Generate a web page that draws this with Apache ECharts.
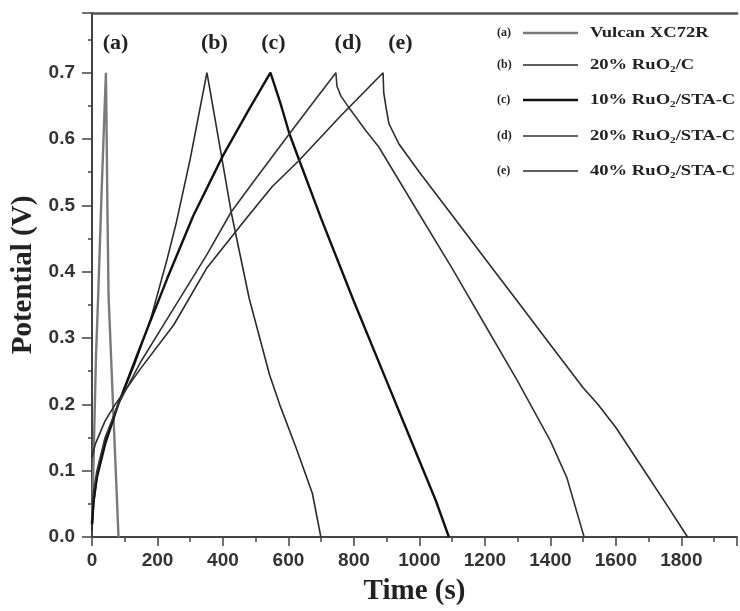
<!DOCTYPE html>
<html><head><meta charset="utf-8">
<script src="https://cdn.jsdelivr.net/npm/echarts@6/dist/echarts.min.js"></script>
<style>html,body{margin:0;padding:0;background:#fff;overflow:hidden;width:740px;height:611px}#c{width:740px;height:611px;display:block}</style>
</head><body><div id="c"></div><script>
// ---- data ----
const xTickLabels = [0, 200, 400, 600, 800, 1000, 1200, 1400, 1600, 1800];
const yTickLabels = [0.0, 0.1, 0.2, 0.3, 0.4, 0.5, 0.6, 0.7];
const seriesTags = ['(a)', '(b)', '(c)', '(d)', '(e)'];
const seriesNames = ['Vulcan XC72R', '20% RuO\u2082/C', '10% RuO\u2082/STA-C', '20% RuO\u2082/STA-C', '40% RuO\u2082/STA-C'];

const aX = [0, 5, 12, 19, 30, 42.5, 44, 47, 50.5, 60, 70, 81];
const aY = [0.02, 0.12, 0.27, 0.365, 0.53, 0.70, 0.64, 0.50, 0.365, 0.25, 0.13, 0.0];

const bX = [0, 5, 15, 40, 80, 130, 180, 230, 258, 300, 351, 360, 390, 425, 480, 542, 573, 623, 673, 699];
const bY = [0.01, 0.05, 0.09, 0.145, 0.2, 0.26, 0.33, 0.42, 0.475, 0.57, 0.70, 0.675, 0.59, 0.49, 0.36, 0.245, 0.20, 0.135, 0.066, 0.0];

const cX = [0, 5, 15, 40, 80, 150, 230, 309, 400, 480, 545, 575, 603, 633, 700, 800, 900, 950, 1000, 1050, 1090];
const cY = [0.02, 0.055, 0.09, 0.14, 0.2, 0.29, 0.39, 0.484, 0.575, 0.645, 0.70, 0.655, 0.608, 0.568, 0.48, 0.355, 0.235, 0.175, 0.115, 0.055, 0.0];

const dX = [0, 5, 15, 40, 80, 150, 250, 350, 425, 500, 603, 680, 745, 748, 760, 785, 836, 876, 1003, 1100, 1200, 1300, 1400, 1450, 1503];
const dY = [0.05, 0.07, 0.1, 0.15, 0.2, 0.265, 0.345, 0.425, 0.49, 0.54, 0.608, 0.658, 0.70, 0.68, 0.665, 0.647, 0.613, 0.588, 0.484, 0.405, 0.32, 0.235, 0.145, 0.09, 0.0];

const eX = [0, 10, 40, 71, 150, 250, 350, 471, 550, 633, 760, 889, 891, 898, 907, 937, 1000, 1100, 1200, 1300, 1400, 1500, 1545, 1600, 1700, 1760, 1819];
const eY = [0.12, 0.14, 0.175, 0.2, 0.255, 0.32, 0.405, 0.48, 0.528, 0.568, 0.635, 0.70, 0.67, 0.648, 0.623, 0.593, 0.55, 0.485, 0.42, 0.355, 0.29, 0.225, 0.2, 0.165, 0.09, 0.045, 0.0];

// positions of the "(a)".."(e)" tags, in data units
const tagX = [72, 374, 554, 782, 942];
const tagY = [0.745, 0.745, 0.745, 0.745, 0.745];

// ---- styles ----
const colors = ['#7a7a7a', '#2b2b2b', '#111111', '#333333', '#2b2b2b'];
const widths = [2.4, 1.6, 2.4, 1.6, 1.6];
const legendY = [33, 65, 100, 136, 171];

const zip = (xs, ys) => xs.map((x, i) => [x, ys[i]]);
const allX = [aX, bX, cX, dX, eX];
const allY = [aY, bY, cY, dY, eY];

const serif = '"Liberation Serif", "Times New Roman", serif';
const sans = '"Liberation Sans", Arial, sans-serif';

const series = allX.map((xs, i) => ({
  type: 'line',
  name: seriesNames[i],
  data: zip(xs, allY[i]),
  xAxisIndex: 0, yAxisIndex: 0,
  showSymbol: false, symbol: 'none',
  lineStyle: { color: colors[i], width: widths[i] },
  itemStyle: { color: colors[i] },
  markPoint: {
    symbol: 'circle', symbolSize: 1,
    itemStyle: { color: 'rgba(0,0,0,0)' },
    label: { show: true, position: 'inside', formatter: seriesTags[i],
      fontFamily: serif, fontWeight: 'bold', fontSize: 22, color: '#222' },
    data: [{ coord: [tagX[i], tagY[i]] }]
  }
}));

const graphic = [];
seriesNames.forEach((n, i) => {
  const y = legendY[i];
  graphic.push({ type: 'text', x: 497, y: y, style: { text: seriesTags[i], font: 'bold 12px ' + serif, fill: '#222', verticalAlign: 'middle' } });
  graphic.push({ type: 'line', shape: { x1: 523, y1: y, x2: 578, y2: y }, style: { stroke: colors[i], lineWidth: widths[i] } });
  graphic.push({ type: 'text', x: 590, y: y, scaleX: 1.24, style: { text: n, font: 'bold 15px ' + serif, fill: '#222', verticalAlign: 'middle' } });
});

const xLabelFmt = v => xTickLabels.indexOf(Math.round(v)) >= 0 && Math.abs(v - Math.round(v)) < 1e-6 ? String(Math.round(v)) : '';
const yLabelFmt = v => {
  const k = Math.round(v * 10);
  return Math.abs(v * 10 - k) < 1e-6 && yTickLabels.indexOf(k / 10) >= 0 ? (k / 10).toFixed(1) : '';
};

const X_MAX = 1970, Y_MAX = 0.79;
const chart = echarts.init(document.getElementById('c'), null, { renderer: 'canvas', width: 740, height: 611 });
chart.setOption({
  animation: false,
  backgroundColor: '#fff',
  grid: { left: 92, top: 13, right: 0, bottom: 67, show: false },
  xAxis: [
    { type: 'value', min: 0, max: X_MAX, interval: 200, position: 'bottom',
      axisLine: { show: true, lineStyle: { color: '#444', width: 2 } },
      axisTick: { show: true, length: 9, lineStyle: { color: '#444', width: 1.5 } },
      axisLabel: { formatter: xLabelFmt, fontSize: 19, fontWeight: 'bold', fontFamily: sans, color: '#333', margin: 14 },
      splitLine: { show: false },
      name: 'Time (s)', nameLocation: 'middle', nameGap: 40,
      nameTextStyle: { fontFamily: serif, fontWeight: 'bold', fontSize: 29, color: '#222' } },
    { type: 'value', min: 0, max: X_MAX, interval: 100, position: 'bottom',
      axisLine: { show: false }, axisTick: { show: true, length: 5, lineStyle: { color: '#444', width: 1.5 } },
      axisLabel: { show: false }, splitLine: { show: false } },
    { type: 'value', min: 0, max: X_MAX, position: 'top',
      axisLine: { show: true, lineStyle: { color: '#555', width: 2.5 } }, axisTick: { show: false },
      axisLabel: { show: false }, splitLine: { show: false } }
  ],
  yAxis: [
    { type: 'value', min: 0, max: Y_MAX, interval: 0.1, position: 'left',
      axisLine: { show: true, lineStyle: { color: '#444', width: 2 } },
      axisTick: { show: true, length: 10, lineStyle: { color: '#444', width: 1.5 } },
      axisLabel: { formatter: yLabelFmt, fontSize: 19, fontWeight: 'bold', fontFamily: sans, color: '#333', margin: 17 },
      splitLine: { show: false },
      name: 'Potential (V)', nameLocation: 'middle', nameGap: 45, nameRotate: 90,
      nameTextStyle: { fontFamily: serif, fontWeight: 'bold', fontSize: 29, color: '#222' } },
    { type: 'value', min: 0, max: Y_MAX, interval: 0.05, position: 'left',
      axisLine: { show: false }, axisTick: { show: true, length: 4, lineStyle: { color: '#444', width: 1.5 } },
      axisLabel: { show: false }, splitLine: { show: false } }
  ],
  series: series,
  graphic: graphic
});
</script></body></html>
